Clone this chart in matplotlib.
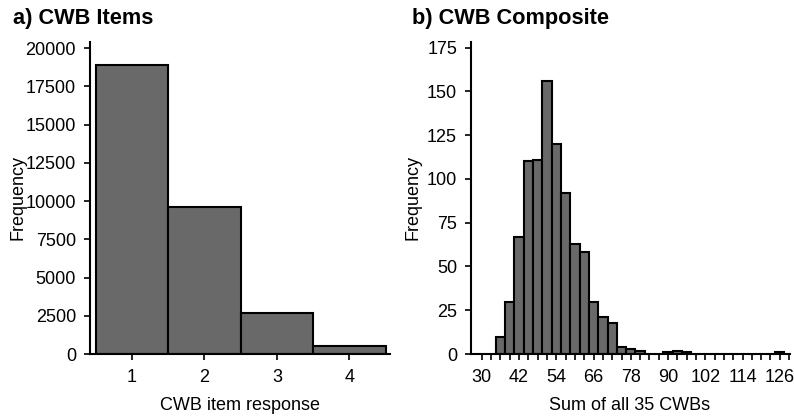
import matplotlib
matplotlib.use('Agg')
import matplotlib.pyplot as plt
import numpy as np

plt.rcParams['font.family'] = ['Liberation Sans', 'DejaVu Sans']

# item level responses (1-4) pooled over all items
item_response = [1, 2, 3, 4]
item_count = [18900, 9600, 2700, 500]

# composite score histogram, bins of width 3 (only non-empty bins)
comp_center = [36, 39, 42, 45, 48, 51, 54, 57, 60, 63, 66, 69, 72, 75, 78, 81, 90, 93, 96, 126]
comp_count = [10, 30, 67, 110, 111, 156, 120, 92, 63, 58, 30, 21, 18, 4, 3, 2, 1, 2, 1, 1]
comp_ticks = [30, 42, 54, 66, 78, 90, 102, 114, 126]

bar_color = "#696969"
lw = 1.5

fig = plt.figure(figsize=(7.94, 4.17), dpi=100)
ax1 = fig.add_axes([90/794, 0.151, 300/794, 0.749])
ax2 = fig.add_axes([471/794, 0.151, 319/794, 0.749])

def style(ax):
    for s in ["top", "right"]:
        ax.spines[s].set_visible(False)
    for s in ["left", "bottom"]:
        ax.spines[s].set_linewidth(lw)
    ax.tick_params(axis="both", which="both", direction="out", length=4, width=1.2,
                   labelsize=13, color="black")
    ax.tick_params(axis="x", pad=7)
    ax.tick_params(axis="y", pad=6)

ax1.bar(item_response, item_count, width=1.0, color=bar_color, edgecolor="black", linewidth=lw)
ax1.set_xlim(0.42, 4.56)
ax1.set_ylim(0, 20430)
ax1.set_xticks(item_response)
ax1.set_yticks(np.arange(0, 20001, 2500))
style(ax1)

ax2.bar(comp_center, comp_count, width=3.0, color=bar_color, edgecolor="black", linewidth=lw)
ax2.set_xlim(26.5, 129.3)
ax2.set_ylim(0, 178.4)
ax2.set_xticks(comp_ticks)
ax2.set_xticks(np.arange(30, 130, 3), minor=True)
ax2.set_yticks(np.arange(0, 176, 25))
style(ax2)

fig.text(240/794, 1 - 405/417, "CWB item response", ha="center", va="center", fontsize=13)
fig.text(630/794, 1 - 405/417, "Sum of all 35 CWBs", ha="center", va="center", fontsize=13)
fig.text(18/794, 1 - 198/417, "Frequency", ha="center", va="center", rotation=90, fontsize=13)
fig.text(413/794, 1 - 198/417, "Frequency", ha="center", va="center", rotation=90, fontsize=13)

fig.text(13/794, 1 - 24/417, "a) CWB Items", ha="left", va="baseline", fontsize=15.7, fontweight="bold")
fig.text(412/794, 1 - 24/417, "b) CWB Composite", ha="left", va="baseline", fontsize=15.7, fontweight="bold")

plt.savefig("out.png", dpi=100)
